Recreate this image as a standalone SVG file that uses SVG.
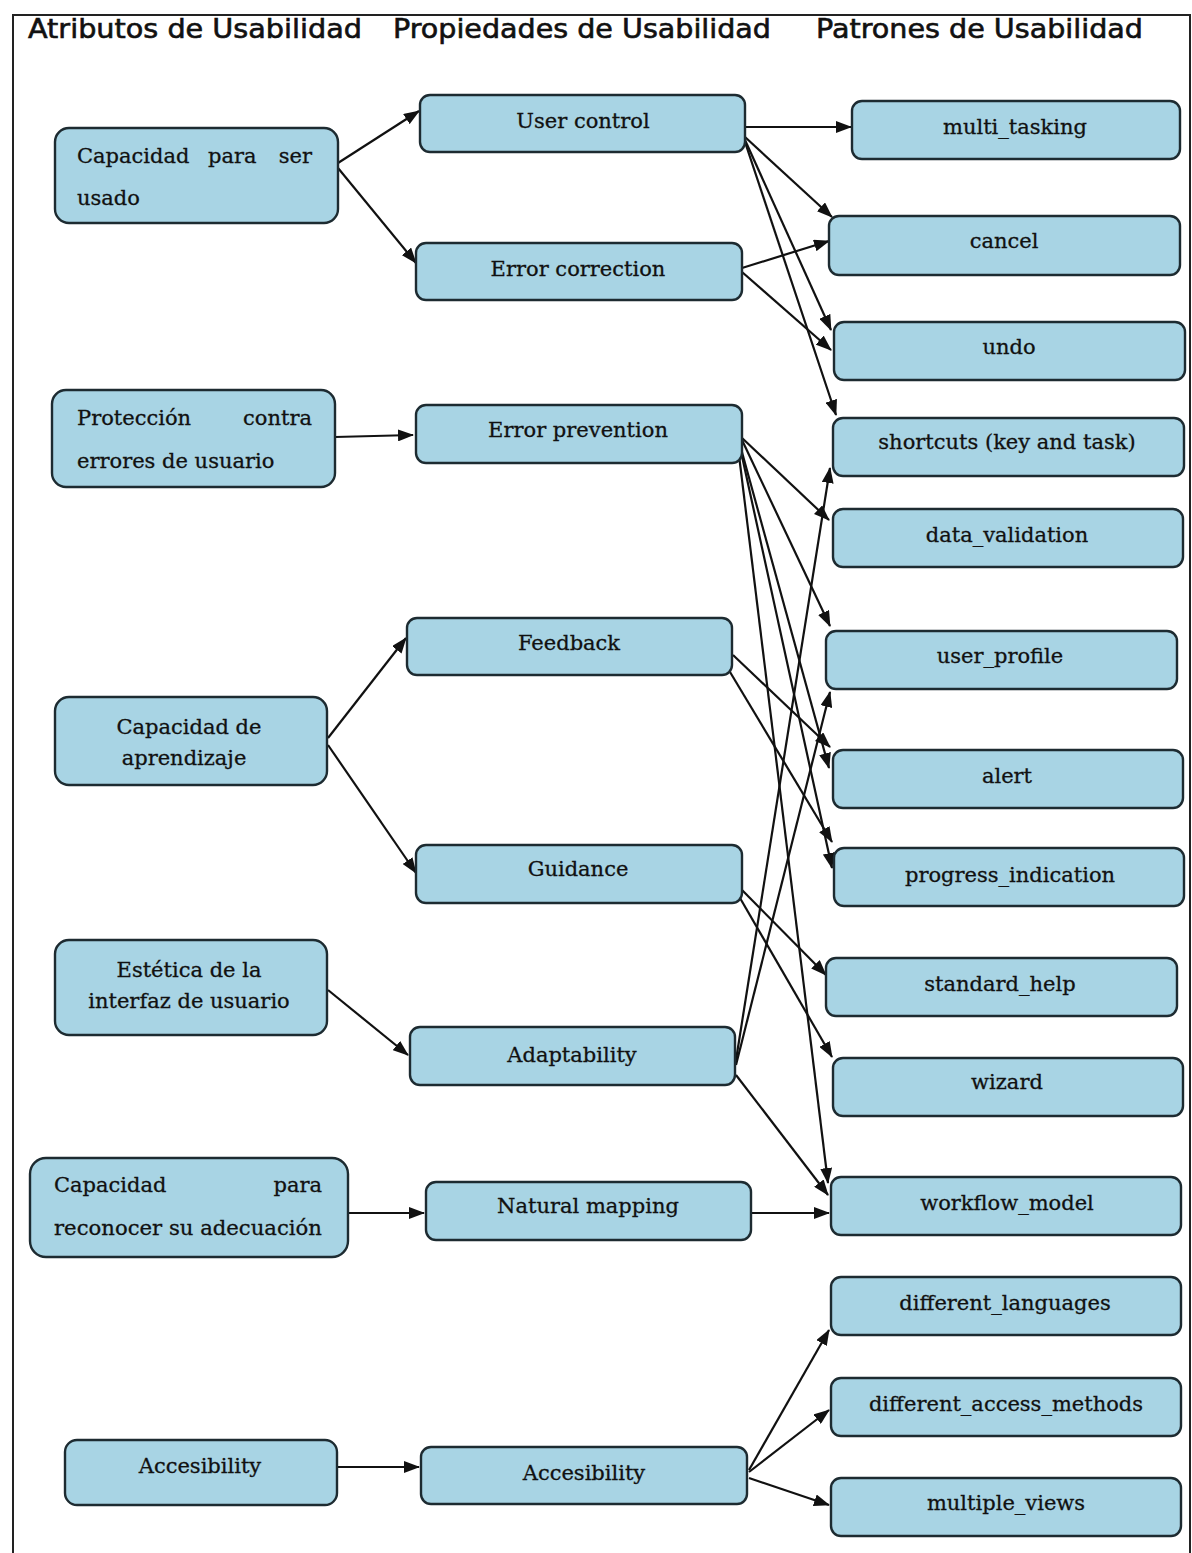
<svg xmlns="http://www.w3.org/2000/svg" width="1192" height="1553" viewBox="0 0 1192 1553">
<style>
.box{fill:#a8d4e4;stroke:#1d2b31;stroke-width:2.4}
.t{font-family:"DejaVu Serif","Liberation Serif",serif;font-size:21px;fill:#111;stroke:#111;stroke-width:0.3}
.c{text-anchor:middle}
.r{text-anchor:end}
.h{font-family:"DejaVu Sans","Liberation Sans",sans-serif;font-size:26px;fill:#111;stroke:#111;stroke-width:0.6}
.e{stroke:#111;stroke-width:2.2;fill:none;marker-end:url(#ah)}
</style>
<defs>
<marker id="ah" markerWidth="16" markerHeight="12" refX="15" refY="6" orient="auto" markerUnits="userSpaceOnUse">
<path d="M0,0 L16,6 L0,12 Z" fill="#111"/>
</marker>
</defs>
<rect width="1192" height="1553" fill="#fff"/>
<g id="frame" stroke="#222" stroke-width="2" fill="none">
<path d="M13,1553 L13,15 L1190,15 L1190,1553"/>
</g>
<g id="headers">
<text class="h" x="28" y="38" textLength="334" lengthAdjust="spacingAndGlyphs">Atributos de Usabilidad</text>
<text class="h" x="393" y="38" textLength="378" lengthAdjust="spacingAndGlyphs">Propiedades de Usabilidad</text>
<text class="h" x="816" y="38" textLength="327" lengthAdjust="spacingAndGlyphs">Patrones de Usabilidad</text>
</g>
<g id="connectors">
<line class="e" x1="338" y1="163" x2="419" y2="111"/>
<line class="e" x1="338" y1="168" x2="416" y2="263"/>
<line class="e" x1="335" y1="437" x2="413" y2="435"/>
<line class="e" x1="328" y1="738" x2="406" y2="638"/>
<line class="e" x1="328" y1="745" x2="416" y2="873"/>
<line class="e" x1="328" y1="990" x2="408" y2="1055"/>
<line class="e" x1="348" y1="1213" x2="424" y2="1213"/>
<line class="e" x1="337" y1="1467" x2="419" y2="1467"/>
<line class="e" x1="745" y1="127" x2="851" y2="127"/>
<line class="e" x1="745" y1="137" x2="832" y2="217"/>
<line class="e" x1="745" y1="140" x2="831" y2="330"/>
<line class="e" x1="745" y1="142" x2="836" y2="415"/>
<line class="e" x1="742" y1="268" x2="829" y2="241"/>
<line class="e" x1="742" y1="272" x2="831" y2="350"/>
<line class="e" x1="742" y1="438" x2="829" y2="520"/>
<line class="e" x1="742" y1="440" x2="830" y2="626"/>
<line class="e" x1="740" y1="445" x2="829" y2="768"/>
<line class="e" x1="740" y1="447" x2="832" y2="868"/>
<line class="e" x1="738" y1="447" x2="828" y2="1183"/>
<line class="e" x1="733" y1="655" x2="830" y2="747"/>
<line class="e" x1="730" y1="672" x2="832" y2="842"/>
<line class="e" x1="742" y1="890" x2="826" y2="975"/>
<line class="e" x1="740" y1="898" x2="832" y2="1057"/>
<line class="e" x1="736" y1="1060" x2="830" y2="468"/>
<line class="e" x1="736" y1="1065" x2="830" y2="692"/>
<line class="e" x1="736" y1="1075" x2="828" y2="1195"/>
<line class="e" x1="751" y1="1213" x2="829" y2="1213"/>
<line class="e" x1="749" y1="1470" x2="829" y2="1330"/>
<line class="e" x1="749" y1="1472" x2="829" y2="1410"/>
<line class="e" x1="749" y1="1478" x2="829" y2="1505"/>
</g>
<g id="A1"><rect class="box" x="55" y="128" width="283" height="95" rx="14"/>
<text class="t" y="163"><tspan x="77">Capacidad</tspan><tspan x="208">para</tspan></text>
<text class="t r" x="312" y="163">ser</text>
<text class="t" x="77" y="205">usado</text></g>
<g id="A2"><rect class="box" x="52" y="390" width="283" height="97" rx="14"/>
<text class="t" x="77" y="425">Protección</text>
<text class="t r" x="312" y="425">contra</text>
<text class="t" x="77" y="468">errores de usuario</text></g>
<g id="A3"><rect class="box" x="55" y="697" width="272" height="88" rx="14"/>
<text class="t c" x="189" y="734">Capacidad de</text>
<text class="t c" x="184" y="765">aprendizaje</text></g>
<g id="A4"><rect class="box" x="55" y="940" width="272" height="95" rx="14"/>
<text class="t c" x="189" y="977">Estética de la</text>
<text class="t c" x="189" y="1008">interfaz de usuario</text></g>
<g id="A5"><rect class="box" x="30" y="1158" width="318" height="99" rx="16"/>
<text class="t" x="54" y="1192">Capacidad</text>
<text class="t r" x="322" y="1192">para</text>
<text class="t" x="54" y="1235" textLength="268" lengthAdjust="spacingAndGlyphs">reconocer su adecuación</text></g>
<g id="A6"><rect class="box" x="65" y="1440" width="272" height="65" rx="12"/>
<text class="t c" x="200" y="1473">Accesibility</text></g>
<g id="P1"><rect class="box" x="420" y="95" width="325" height="57" rx="10"/>
<text class="t c" x="583" y="128">User control</text></g>
<g id="P2"><rect class="box" x="416" y="243" width="326" height="57" rx="10"/>
<text class="t c" x="578" y="276">Error correction</text></g>
<g id="P3"><rect class="box" x="416" y="405" width="326" height="58" rx="10"/>
<text class="t c" x="578" y="437">Error prevention</text></g>
<g id="P4"><rect class="box" x="407" y="618" width="325" height="57" rx="10"/>
<text class="t c" x="569" y="650">Feedback</text></g>
<g id="P5"><rect class="box" x="416" y="845" width="326" height="58" rx="10"/>
<text class="t c" x="578" y="876">Guidance</text></g>
<g id="P6"><rect class="box" x="410" y="1027" width="325" height="58" rx="10"/>
<text class="t c" x="572" y="1062">Adaptability</text></g>
<g id="P7"><rect class="box" x="426" y="1182" width="325" height="58" rx="10"/>
<text class="t c" x="588" y="1213">Natural mapping</text></g>
<g id="P8"><rect class="box" x="421" y="1447" width="326" height="57" rx="10"/>
<text class="t c" x="584" y="1480">Accesibility</text></g>
<g id="R1"><rect class="box" x="852" y="101" width="328" height="58" rx="10"/>
<text class="t c" x="1015" y="134">multi_tasking</text></g>
<g id="R2"><rect class="box" x="829" y="216" width="351" height="59" rx="10"/>
<text class="t c" x="1004" y="248">cancel</text></g>
<g id="R3"><rect class="box" x="834" y="322" width="351" height="58" rx="10"/>
<text class="t c" x="1009" y="354">undo</text></g>
<g id="R4"><rect class="box" x="833" y="418" width="351" height="58" rx="10"/>
<text class="t c" x="1007" y="449">shortcuts (key and task)</text></g>
<g id="R5"><rect class="box" x="833" y="509" width="350" height="58" rx="10"/>
<text class="t c" x="1007" y="542">data_validation</text></g>
<g id="R6"><rect class="box" x="826" y="631" width="351" height="58" rx="10"/>
<text class="t c" x="1000" y="663">user_profile</text></g>
<g id="R7"><rect class="box" x="833" y="750" width="350" height="58" rx="10"/>
<text class="t c" x="1007" y="783">alert</text></g>
<g id="R8"><rect class="box" x="834" y="848" width="350" height="58" rx="10"/>
<text class="t c" x="1010" y="882">progress_indication</text></g>
<g id="R9"><rect class="box" x="826" y="958" width="351" height="58" rx="10"/>
<text class="t c" x="1000" y="991">standard_help</text></g>
<g id="R10"><rect class="box" x="833" y="1058" width="350" height="58" rx="10"/>
<text class="t c" x="1007" y="1089">wizard</text></g>
<g id="R11"><rect class="box" x="831" y="1177" width="350" height="58" rx="10"/>
<text class="t c" x="1007" y="1210">workflow_model</text></g>
<g id="R12"><rect class="box" x="831" y="1277" width="350" height="58" rx="10"/>
<text class="t c" x="1005" y="1310">different_languages</text></g>
<g id="R13"><rect class="box" x="831" y="1378" width="350" height="58" rx="10"/>
<text class="t c" x="1006" y="1411">different_access_methods</text></g>
<g id="R14"><rect class="box" x="831" y="1478" width="350" height="58" rx="10"/>
<text class="t c" x="1006" y="1510">multiple_views</text></g>
</svg>
